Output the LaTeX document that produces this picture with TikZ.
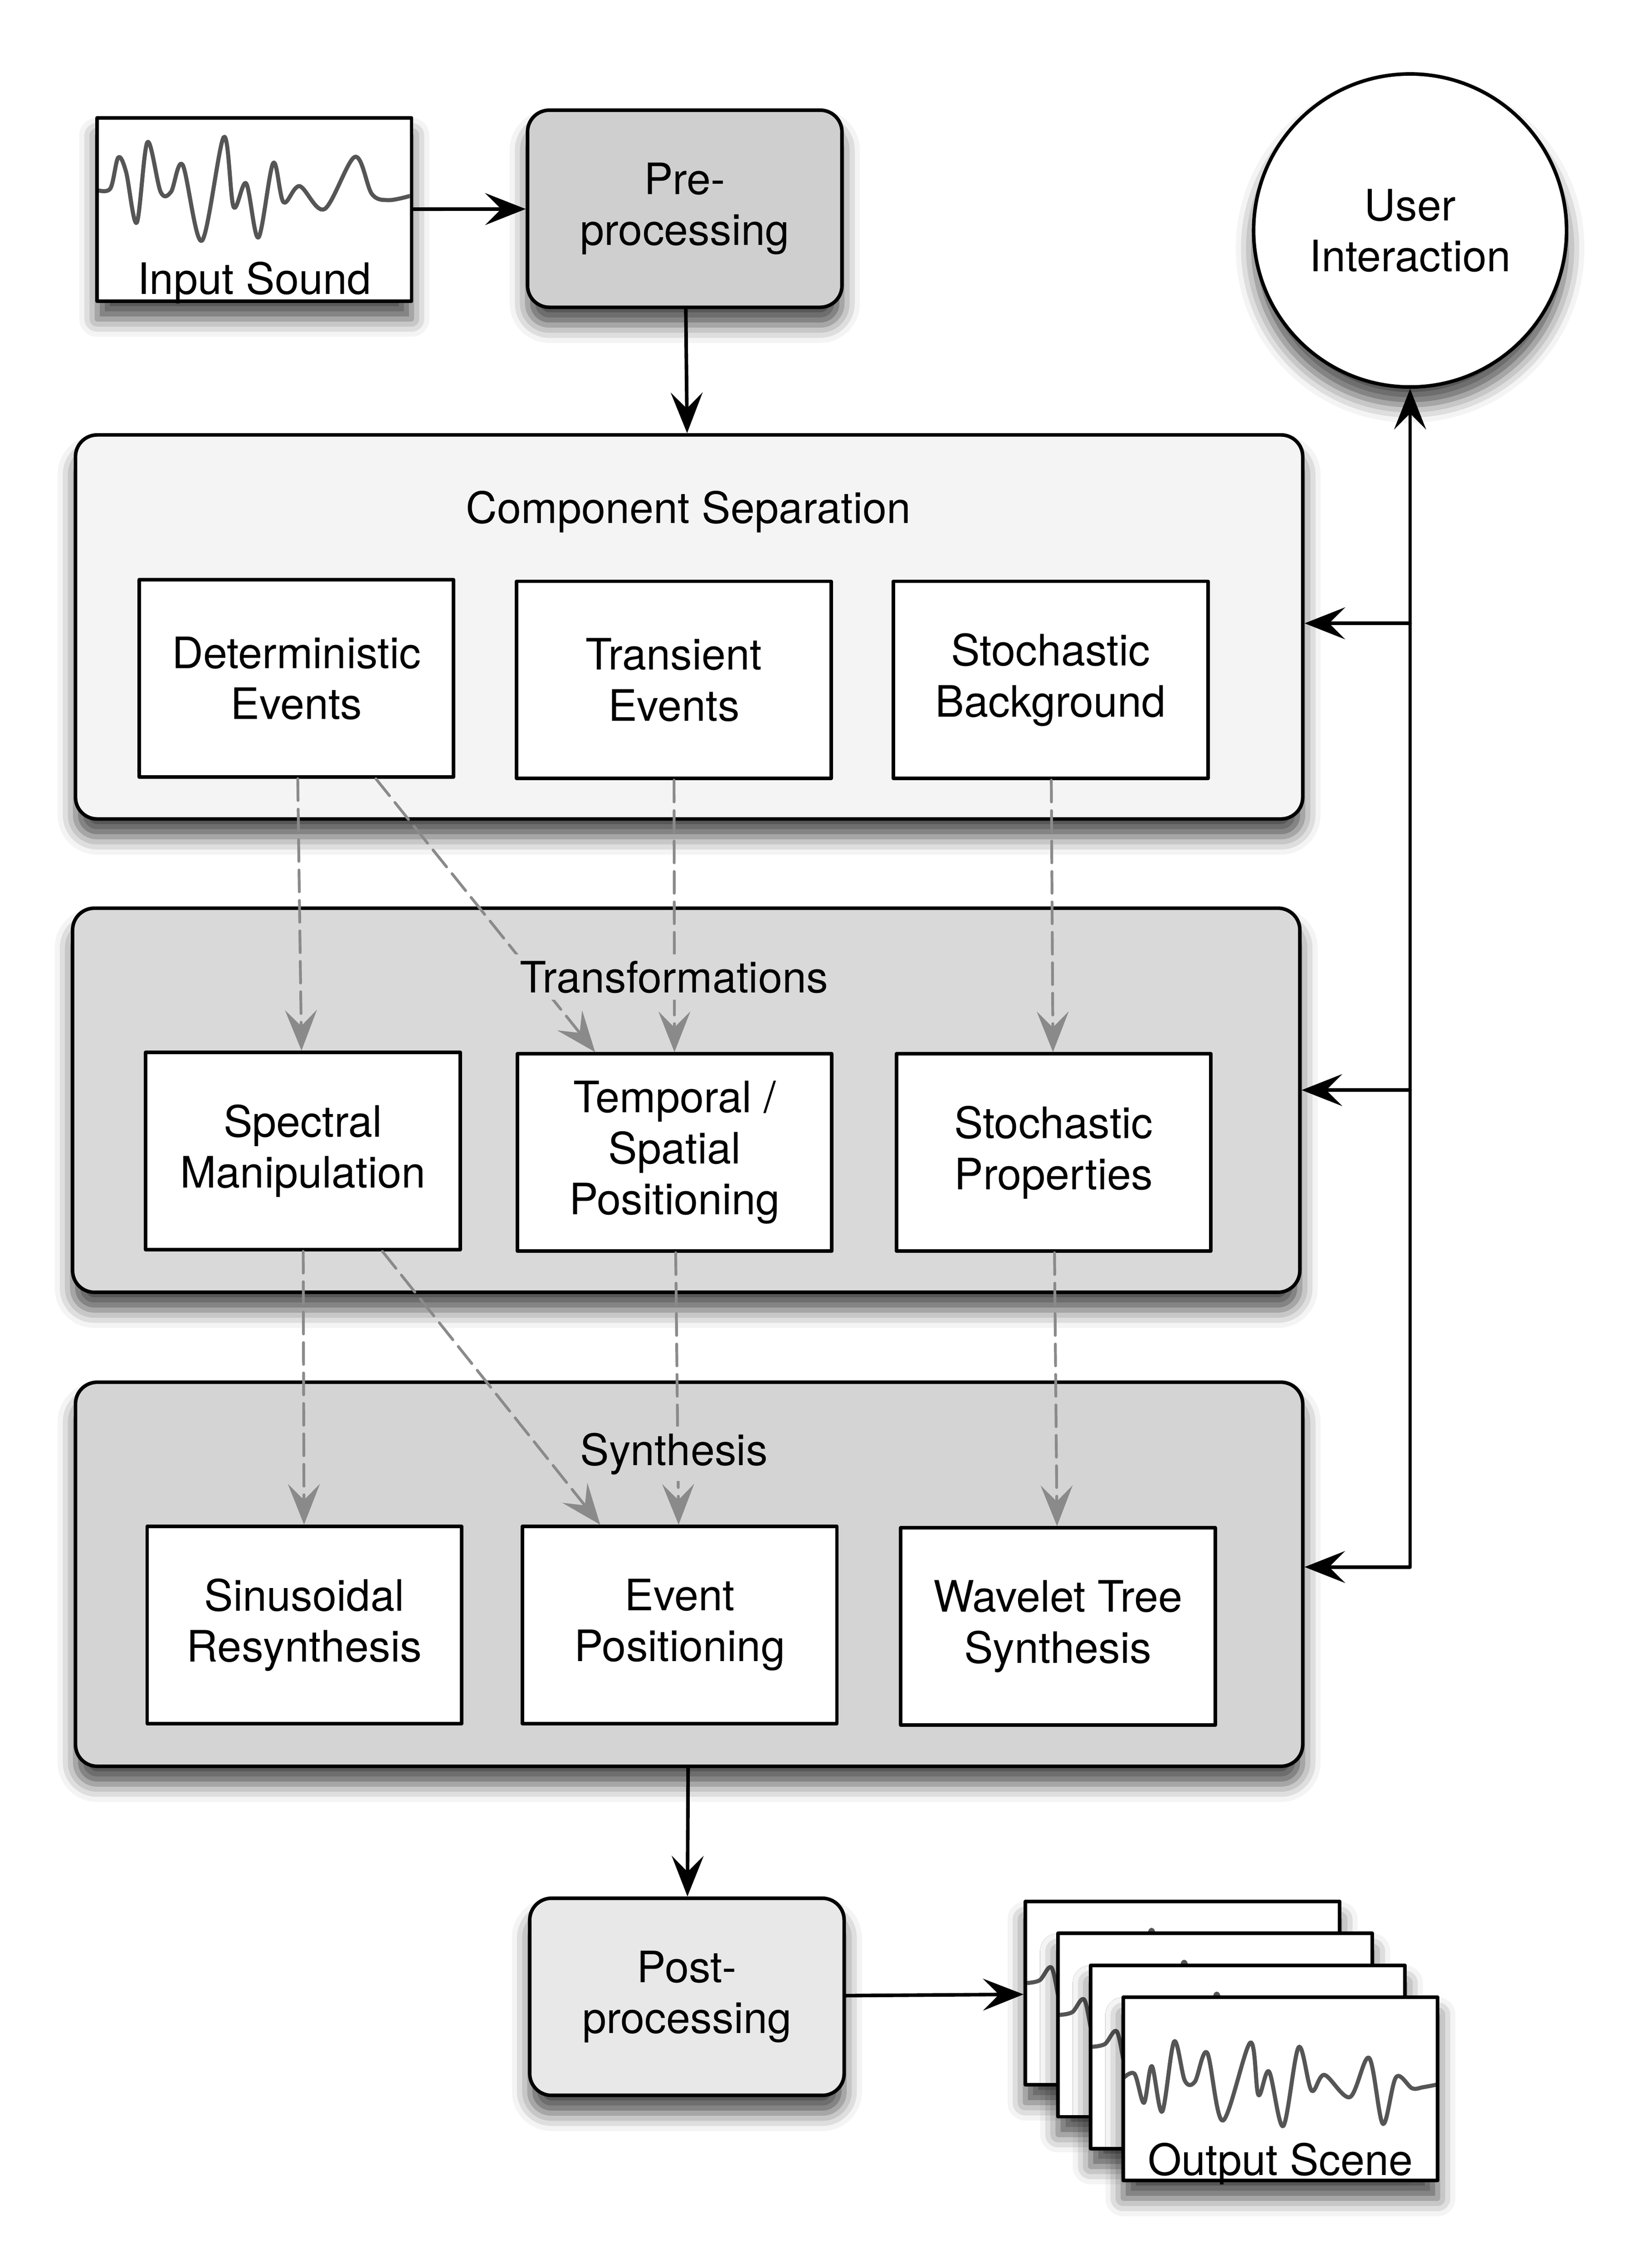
\documentclass[tikz,border=0pt]{standalone}
\usepackage{fontspec}
\setmainfont{TeX Gyre Heros}
\usetikzlibrary{arrows.meta,calc,shadows.blur}
\definecolor{csfill}{HTML}{F4F4F4}
\definecolor{trfill}{HTML}{D9D9D9}
\definecolor{syfill}{HTML}{D4D4D4}
\definecolor{prefill}{HTML}{CFCFCF}
\definecolor{postfill}{HTML}{E8E8E8}
\definecolor{dashgray}{HTML}{8A8A8A}
\definecolor{wavegray}{HTML}{555555}
\newcommand{\inwave}{\draw[wavegray,line width=1.6pt] plot[smooth,tension=0.55] coordinates {(0,0.394) (0.042,0.386) (0.067,0.217) (0.092,0.295) (0.126,0.572) (0.160,0.133) (0.202,0.404) (0.235,0.404) (0.272,0.257) (0.333,0.671) (0.403,0.105) (0.434,0.486) (0.474,0.358) (0.513,0.653) (0.560,0.247) (0.593,0.461) (0.644,0.373) (0.723,0.498) (0.820,0.213) (0.874,0.416) (0.928,0.449) (1.0,0.424)};}
\newcommand{\outwave}{\draw[wavegray,line width=1.6pt] plot[smooth,tension=0.55] coordinates {(0,0.442) (0.036,0.418) (0.066,0.576) (0.091,0.376) (0.124,0.624) (0.162,0.242) (0.196,0.455) (0.228,0.461) (0.267,0.303) (0.317,0.673) (0.404,0.248) (0.430,0.533) (0.464,0.406) (0.509,0.703) (0.558,0.273) (0.599,0.509) (0.640,0.424) (0.721,0.545) (0.782,0.331) (0.826,0.691) (0.868,0.436) (0.919,0.497) (0.954,0.491) (1.0,0.476)};}
\newcommand{\backwave}{\draw[wavegray,line width=1.6pt] plot[smooth,tension=0.55] coordinates {(0,0.445) (0.045,0.43) (0.083,0.36) (0.11,0.55) (0.14,0.60) (0.17,0.26) (0.21,0.50) (0.25,0.46) (0.29,0.30) (0.34,0.66) (0.40,0.155) (0.44,0.52) (0.48,0.40) (0.52,0.70) (0.56,0.27) (0.60,0.51) (0.64,0.42) (0.72,0.55) (0.78,0.33) (0.83,0.69) (0.87,0.44) (0.92,0.50) (1.0,0.48)};}
\newcommand{\putwave}[2]{\begin{scope}
\clip ([xshift=1.4pt,yshift=-1.4pt]#1.north west) rectangle ([xshift=-1.4pt,yshift=1.4pt]#1.south east);
\begin{scope}[shift={([xshift=0.7pt,yshift=-0.7pt]#1.north west)},x=4.34cm,y=-2.53cm]#2\end{scope}
\end{scope}}
\begin{document}
\begin{tikzpicture}[line cap=round,line join=round,>={Stealth[length=0.56cm,width=0.44cm,inset=0.22cm]},x=0.02cm,y=-0.02cm,
font=\fontsize{17}{20}\selectfont,
shd/.style={blur shadow={shadow xshift=0pt,shadow yshift=-7pt,shadow blur radius=7pt,shadow opacity=70}},
box/.style={draw,fill=white,line width=1.4pt,minimum width=4.34cm,minimum height=2.72cm,align=center,inner sep=0pt},
grp/.style={draw,fill=#1,rounded corners=0.3cm,line width=1.4pt,minimum width=16.94cm,minimum height=5.3cm,shd},
proc/.style={draw,fill=#1,rounded corners=0.3cm,line width=1.4pt,minimum width=4.34cm,minimum height=2.72cm,align=center,shd},
frm/.style={draw,fill=white,line width=1.4pt,minimum width=4.34cm,minimum height=2.53cm,inner sep=0pt,shd},
ttl/.style={fill=#1,inner sep=2.5pt},
arr/.style={->,line width=1.4pt},
dsh/.style={->,dashgray,line width=1.1pt,dash pattern=on 0.3cm off 0.12cm}]
\useasboundingbox (0,0) rectangle (1130,1564.6);
\node[frm] (insnd) at (175.5,144.5) {};
\putwave{insnd}{\inwave}
\node[anchor=base] (insndl) at ([yshift=0.12cm]insnd.south) {Input Sound};
\node[proc=prefill] (pre) at (472.5,144) {Pre-\\processing};
\node[circle,draw,fill=white,line width=1.4pt,minimum size=4.32cm,align=center,shd] (user) at (973,159) {User\\Interaction};
\node[grp=csfill] (compsep) at (475.5,432.5) {};
\node[grp=trfill] (transf) at (473.5,759) {};
\node[grp=syfill] (synth) at (475.5,1086) {};
\node[box] (det) at (204.5,468) {Deterministic\\Events};
\node[box] (trans) at (465,469) {Transient\\Events};
\node[box] (stochbg) at (725,469) {Stochastic\\Background};
\node[box] (spec) at (209,794) {Spectral\\Manipulation};
\node[box] (temp) at (465.5,795) {Temporal /\\Spatial\\Positioning};
\node[box] (stochprop) at (727,795) {Stochastic\\Properties};
\node[box] (sinus) at (210,1121) {Sinusoidal\\Resynthesis};
\node[box] (evpos) at (469,1121) {Event\\Positioning};
\node[box] (wavelet) at (730,1122) {Wavelet Tree\\Synthesis};
\node[proc=postfill] (post) at (474,1377.5) {Post-\\processing};
\node[frm] (f1) at (816,1375) {};
\putwave{f1}{\backwave}
\node[frm] (f2) at (838.5,1397) {};
\putwave{f2}{\backwave}
\node[frm] (f3) at (861,1419) {};
\putwave{f3}{\backwave}
\node[frm] (f4) at (883.5,1441) {};
\putwave{f4}{\outwave}
\node[anchor=base] (f4l) at ([yshift=0.1cm]f4.south) {Output Scene};
\draw[dsh] (det) -- (spec);
\draw[dsh] ($(det.south)!0.5!(det.south east)$) -- ($(temp.north west)!0.5!(temp.north)$);
\draw[dsh] (trans) -- (temp);
\draw[dsh] (stochbg) -- (stochprop);
\draw[dsh] (spec) -- (sinus);
\draw[dsh] ($(spec.south)!0.5!(spec.south east)$) -- ($(evpos.north west)!0.5!(evpos.north)$);
\draw[dsh] (temp) -- (evpos);
\draw[dsh] (stochprop) -- (wavelet);
\node[ttl=csfill] (cstl) at (475,353) {Component Separation};
\node[ttl=trfill] (trtl) at (465,674) {Transformations};
\node[ttl=syfill] (sytl) at (465,1003) {Synthesis};
\draw[arr] (insnd) -- (pre);
\draw[arr] (pre) -- (compsep);
\draw[arr] (synth) -- (post);
\draw[arr] (post) -- (f1);
\coordinate (ui1) at (973,430);
\coordinate (ui2) at (973,752);
\coordinate (ui3) at (973,1081);
\draw[arr,<->] (user.south) |- (ui3 -| synth.east);
\draw[arr] (ui1) -- (ui1 -| compsep.east);
\draw[arr] (ui2) -- (ui2 -| transf.east);
\end{tikzpicture}
\end{document}
